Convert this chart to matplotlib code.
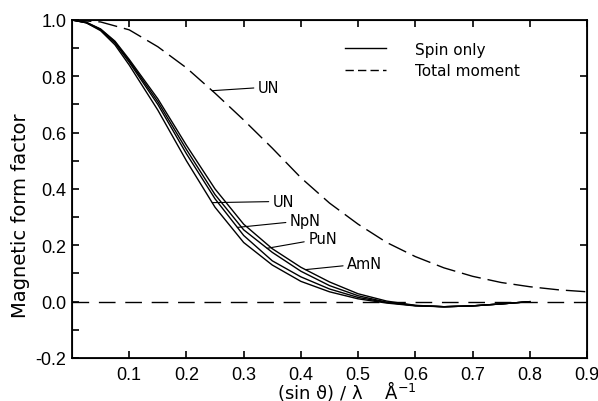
import numpy as np
import matplotlib
matplotlib.use("Agg")
import matplotlib.pyplot as plt
from matplotlib.lines import Line2D

tickfont = "Liberation Sans"

# (sin theta)/lambda values
s_spin = [0.0, 0.025, 0.05, 0.075, 0.1, 0.15, 0.2, 0.25, 0.3, 0.35, 0.4, 0.45, 0.5, 0.55, 0.6, 0.65, 0.7, 0.75, 0.8]
s_tot = [0.0, 0.05, 0.1, 0.15, 0.2, 0.25, 0.3, 0.35, 0.4, 0.45, 0.5, 0.55, 0.6, 0.65, 0.7, 0.75, 0.8, 0.85, 0.9]

# spin only form factors
f_un = [1.0, 0.99, 0.962, 0.912, 0.84, 0.68, 0.50, 0.335, 0.21, 0.13, 0.072, 0.035, 0.01, -0.005, -0.015, -0.018, -0.015, -0.008, 0.0]
f_npn = [1.0, 0.99, 0.965, 0.918, 0.85, 0.70, 0.525, 0.365, 0.235, 0.145, 0.088, 0.045, 0.015, -0.003, -0.014, -0.018, -0.015, -0.008, 0.0]
f_pun = [1.0, 0.991, 0.967, 0.922, 0.855, 0.71, 0.54, 0.38, 0.255, 0.175, 0.108, 0.057, 0.021, -0.002, -0.014, -0.018, -0.015, -0.008, 0.0]
f_amn = [1.0, 0.992, 0.968, 0.925, 0.86, 0.72, 0.555, 0.40, 0.275, 0.188, 0.122, 0.07, 0.028, 0.002, -0.013, -0.018, -0.015, -0.008, 0.0]

# total moment UN
f_tot = [1.0, 0.993, 0.965, 0.905, 0.83, 0.74, 0.645, 0.545, 0.44, 0.35, 0.275, 0.21, 0.16, 0.12, 0.09, 0.068, 0.053, 0.042, 0.035]

spin = [("UN", f_un, 0.245), ("NpN", f_npn, 0.289), ("PuN", f_pun, 0.341), ("AmN", f_amn, 0.408)]
lab_pos = {"UN": (0.351, 0.356), "NpN": (0.381, 0.288), "PuN": (0.413, 0.224), "AmN": (0.481, 0.135)}

fig = plt.figure(figsize=(5.98, 4.02), dpi=100)
ax = fig.add_axes([0.1204, 0.107, 0.8612, 0.8408])

for name, f, sx in spin:
    ax.plot(s_spin, f, color="black", lw=1.0)
    ax.annotate(name, xy=(sx, np.interp(sx, s_spin, f)), xytext=lab_pos[name],
                ha="left", va="center", fontsize=10.5,
                arrowprops=dict(arrowstyle="-", color="black", lw=0.8, shrinkA=1, shrinkB=0))

ax.plot(s_tot, f_tot, color="black", lw=1.0, dashes=(14, 5))
ax.annotate("UN", xy=(0.245, np.interp(0.245, s_tot, f_tot)), xytext=(0.325, 0.762),
            ha="left", va="center", fontsize=10.5,
            arrowprops=dict(arrowstyle="-", color="black", lw=0.8, shrinkA=1, shrinkB=0))

ax.axhline(0, color="black", lw=1.0, dashes=(12, 7))

h1 = Line2D([], [], color="black", lw=1.0)
h2 = Line2D([], [], color="black", lw=1.0, dashes=(6, 3))
ax.legend([h1, h2], ["Spin only", "Total moment"], loc="upper left",
          bbox_to_anchor=(0.515, 0.958), frameon=False, fontsize=11,
          handlelength=2.7, handletextpad=1.9, labelspacing=0.4, borderpad=0)

ax.set_xlim(0, 0.9)
ax.set_ylim(-0.2, 1.0)
ax.set_xticks(np.arange(0.1, 0.95, 0.1))
ax.set_xticklabels(["0.1", "0.2", "0.3", "0.4", "0.5", "0.6", "0.7", "0.8", "0.9"])
ax.set_yticks(np.arange(-0.2, 1.05, 0.2))
ax.set_yticklabels(["-0.2", "0.0", "0.2", "0.4", "0.6", "0.8", "1.0"])
ax.set_yticks(np.arange(-0.1, 1.0, 0.2), minor=True)
ax.tick_params(direction="in", length=5, width=1.2, top=True, labelsize=13, pad=6)
ax.tick_params(axis="y", which="minor", direction="in", length=5, width=1.2)
ax.tick_params(axis="y", pad=4)
for lbl in ax.get_xticklabels() + ax.get_yticklabels():
    lbl.set_fontfamily(tickfont)
for sp in ax.spines.values():
    sp.set_linewidth(1.3)

# right side ticks only at 0.2 .. 0.8
ax2 = ax.twinx()
ax2.set_ylim(-0.2, 1.0)
ax2.set_yticks([0.2, 0.4, 0.6, 0.8])
ax2.tick_params(direction="in", length=5, width=1.2, labelright=False)

fig.text(21 / 598, 1 - 216 / 402, "Magnetic form factor", rotation=90,
         ha="center", va="center", fontsize=14)
fig.text(277 / 598, 1 - 399 / 402, r"(sin ϑ) / λ    Å$^{-1}$", ha="left", va="baseline", fontsize=13)

fig.savefig("out.png", dpi=100)
